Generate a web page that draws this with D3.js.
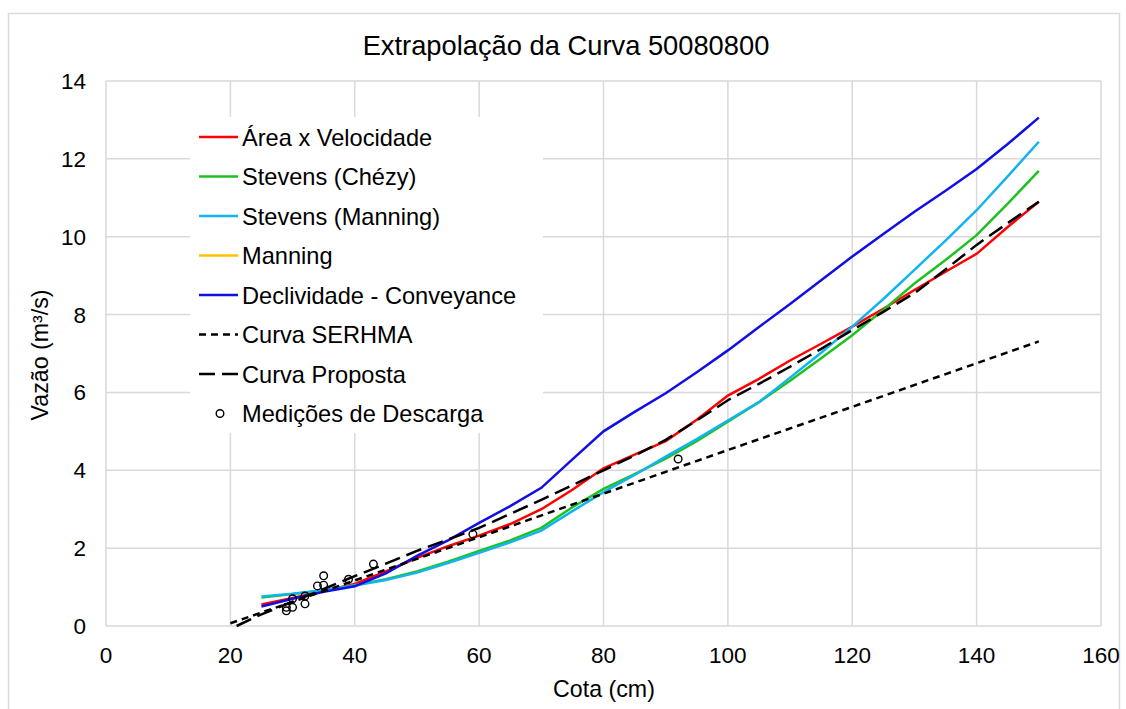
<!DOCTYPE html>
<html>
<head>
<meta charset="utf-8">
<script src="https://cdn.jsdelivr.net/npm/d3@7"></script>
<style>
  body { margin: 0; background: #fff; }
  text { font-family: "Liberation Sans", Arial, sans-serif; fill: #000; }
</style>
</head>
<body>
<div id="chart"></div>
<script>

// cota (cm) where each curve was read
const cotaCurvas = [25, 30, 35, 40, 45, 50, 55, 60, 65, 70, 75, 80, 85, 90, 95, 100, 105, 110, 115, 120, 125, 130, 135, 140, 145, 150];

const areaVelocidade = [0.55, 0.72, 0.9, 1.08, 1.4, 1.75, 2.05, 2.32, 2.62, 3.0, 3.5, 4.05, 4.4, 4.75, 5.3, 5.92, 6.35, 6.82, 7.25, 7.69, 8.15, 8.63, 9.1, 9.56, 10.25, 10.9];
const stevensChezy = [0.73, 0.82, 0.92, 1.05, 1.2, 1.4, 1.65, 1.93, 2.2, 2.52, 3.05, 3.52, 3.9, 4.3, 4.75, 5.25, 5.75, 6.3, 6.88, 7.47, 8.12, 8.8, 9.4, 10.04, 10.85, 11.69];
const stevensManning = [0.76, 0.83, 0.92, 1.04, 1.18, 1.37, 1.62, 1.88, 2.15, 2.45, 2.95, 3.44, 3.88, 4.35, 4.8, 5.28, 5.75, 6.38, 7.02, 7.69, 8.4, 9.15, 9.9, 10.68, 11.55, 12.44];
const manning = []; // not visible in the picture, only in the legend
const declividade = [0.5, 0.7, 0.88, 1.02, 1.35, 1.8, 2.2, 2.65, 3.08, 3.55, 4.28, 5.0, 5.5, 5.98, 6.52, 7.08, 7.68, 8.27, 8.88, 9.49, 10.07, 10.64, 11.18, 11.74, 12.38, 13.06];

const cotaSerhma = [20, 40, 60, 80, 100, 120, 140, 150];
const curvaSerhma = [0.07, 1.17, 2.28, 3.4, 4.52, 5.63, 6.75, 7.31];

const cotaProposta = [21, 25, 30, 35, 40, 45, 50, 55, 60, 65, 70, 75, 80, 85, 90, 95, 100, 105, 110, 115, 120, 125, 130, 135, 140, 145, 150];
const curvaProposta = [0, 0.3, 0.62, 0.95, 1.28, 1.6, 1.93, 2.22, 2.52, 2.88, 3.24, 3.62, 4.0, 4.38, 4.78, 5.28, 5.8, 6.22, 6.66, 7.12, 7.6, 8.07, 8.55, 9.16, 9.79, 10.35, 10.9];

// medições de descarga
const medCota = [29, 29, 30, 30, 32, 32, 34, 35, 35, 39, 43, 59, 92];
const medVazao = [0.48, 0.39, 0.48, 0.7, 0.57, 0.77, 1.03, 1.29, 1.05, 1.2, 1.59, 2.36, 4.29];

const xTicks = [0, 20, 40, 60, 80, 100, 120, 140, 160];
const yTicks = [0, 2, 4, 6, 8, 10, 12, 14];

const series = [
    {name: "Área x Velocidade", x: cotaCurvas, y: areaVelocidade, color: "#ff0000", dash: null},
    {name: "Stevens (Chézy)", x: cotaCurvas, y: stevensChezy, color: "#1ec21e", dash: null},
    {name: "Stevens (Manning)", x: cotaCurvas, y: stevensManning, color: "#12b4f0", dash: null},
    {name: "Manning", x: cotaCurvas, y: manning, color: "#ffc000", dash: null},
    {name: "Declividade - Conveyance", x: cotaCurvas, y: declividade, color: "#0f0fe6", dash: null},
    {name: "Curva SERHMA", x: cotaSerhma, y: curvaSerhma, color: "#000", dash: "7,5"},
    {name: "Curva Proposta", x: cotaProposta, y: curvaProposta, color: "#000", dash: "16,7"}
];

const W = 1126, H = 709;
const svg = d3.select("#chart").append("svg")
    .attr("width", W)
    .attr("height", H);

// chart border
svg.append("rect")
    .attr("x", 8.5).attr("y", 13.5)
    .attr("width", 1111).attr("height", 720)
    .attr("fill", "#fff")
    .attr("stroke", "#d9d9d9")
    .attr("stroke-width", 1.5);

const x = d3.scaleLinear().domain([0, 160]).range([106, 1101]);
const y = d3.scaleLinear().domain([0, 14]).range([626, 81]);

// grid
svg.append("g")
    .selectAll("line.v")
    .data(xTicks)
    .join("line")
    .attr("x1", d => x(d)).attr("x2", d => x(d))
    .attr("y1", y(0)).attr("y2", y(14))
    .attr("stroke", "#d9d9d9")
    .attr("stroke-width", 1.5);

svg.append("g")
    .selectAll("line.h")
    .data(yTicks)
    .join("line")
    .attr("x1", x(0)).attr("x2", x(160))
    .attr("y1", d => y(d)).attr("y2", d => y(d))
    .attr("stroke", "#d9d9d9")
    .attr("stroke-width", 1.5);

// tick labels
svg.append("g")
    .selectAll("text")
    .data(xTicks)
    .join("text")
    .attr("x", d => x(d))
    .attr("y", 663)
    .attr("text-anchor", "middle")
    .attr("font-size", 22.5)
    .text(d => d);

svg.append("g")
    .selectAll("text")
    .data(yTicks)
    .join("text")
    .attr("x", 86)
    .attr("y", d => y(d) + 8)
    .attr("text-anchor", "end")
    .attr("font-size", 22.5)
    .text(d => d);

// titles
svg.append("text")
    .attr("x", 566).attr("y", 55)
    .attr("text-anchor", "middle")
    .attr("font-size", 27.3)
    .text("Extrapolação da Curva 50080800");

svg.append("text")
    .attr("x", 604).attr("y", 697)
    .attr("text-anchor", "middle")
    .attr("font-size", 23.2)
    .text("Cota (cm)");

svg.append("text")
    .attr("transform", "translate(48,355) rotate(-90)")
    .attr("text-anchor", "middle")
    .attr("font-size", 23.2)
    .text("Vazão (m³/s)");

// curves
const line = d3.line()
    .x(d => x(d[0]))
    .y(d => y(d[1]));

series.forEach(s => {
    if (!s.y.length) return;
    const pts = s.y.map((v, i) => [s.x[i], v]);
    svg.append("path")
        .datum(pts)
        .attr("d", line)
        .attr("fill", "none")
        .attr("stroke", s.color)
        .attr("stroke-width", 2.5)
        .attr("stroke-dasharray", s.dash);
});

// medições
svg.append("g")
    .selectAll("circle")
    .data(medCota.map((c, i) => [c, medVazao[i]]))
    .join("circle")
    .attr("cx", d => x(d[0]))
    .attr("cy", d => y(d[1]))
    .attr("r", 3.8)
    .attr("fill", "none")
    .attr("stroke", "#000")
    .attr("stroke-width", 1.4);

// legend
const leg = svg.append("g");
leg.append("rect")
    .attr("x", 190).attr("y", 117)
    .attr("width", 353).attr("height", 316)
    .attr("fill", "#fff");

const rowY = i => 137 + i * 39.5;

series.forEach((s, i) => {
    leg.append("line")
        .attr("x1", 199).attr("x2", 238)
        .attr("y1", rowY(i)).attr("y2", rowY(i))
        .attr("stroke", s.color)
        .attr("stroke-width", 2.5)
        .attr("stroke-dasharray", s.dash);
    leg.append("text")
        .attr("x", 242).attr("y", rowY(i) + 8.5)
        .attr("font-size", 23.6)
        .text(s.name);
});

leg.append("circle")
    .attr("cx", 220).attr("cy", rowY(7))
    .attr("r", 3.8)
    .attr("fill", "none")
    .attr("stroke", "#000")
    .attr("stroke-width", 1.4);
leg.append("text")
    .attr("x", 242).attr("y", rowY(7) + 8.5)
    .attr("font-size", 23.6)
    .text("Medições de Descarga");

</script>
</body>
</html>
